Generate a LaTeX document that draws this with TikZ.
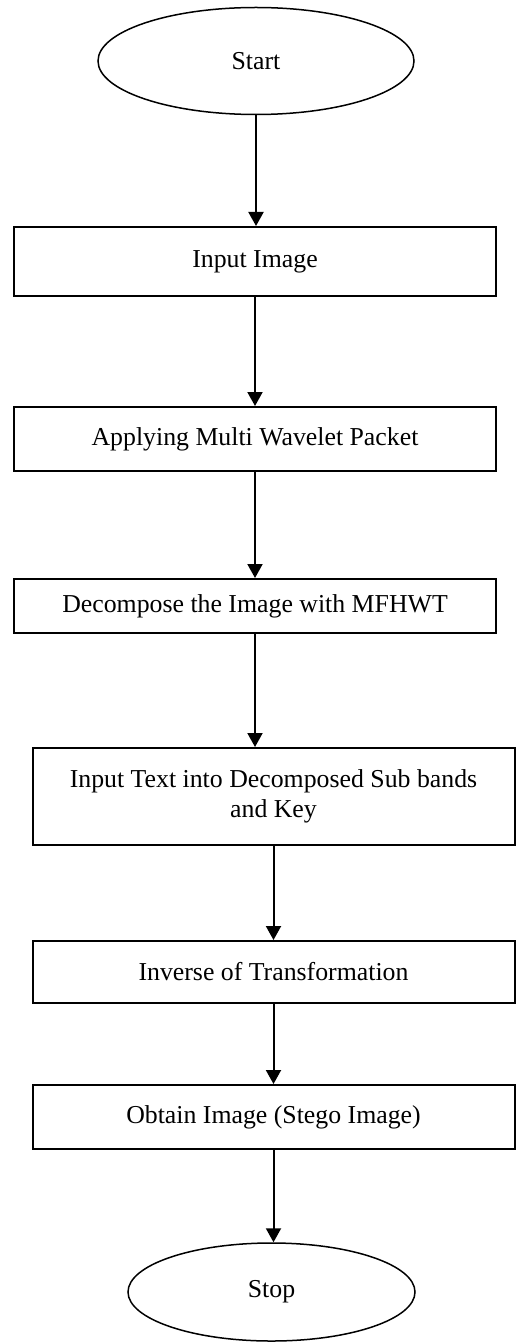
\documentclass[tikz,border=0pt]{standalone}
\usepackage{fontspec}
\setmainfont{Liberation Serif}
\usetikzlibrary{shapes.geometric,arrows.meta}

\begin{document}
\begin{tikzpicture}[x=0.5pt,y=-0.5pt,
  every node/.style={font=\fontsize{12.9}{15}\selectfont},
  stepbox/.style={draw,line width=1pt,rectangle,minimum width=241pt,align=center,inner sep=0pt},
  term/.style={draw,line width=0.75pt,ellipse,inner sep=0pt},
  flow/.style={-{Triangle[length=7pt,width=7.5pt]},line width=1pt}]
\useasboundingbox (0,0) rectangle (515,1342);
\node[term,minimum width=158pt,minimum height=53.5pt] (start) at (256,61) {Start};
\node[stepbox,minimum height=34.5pt] (input) at (255,261.5) {Input Image};
\node[stepbox,minimum height=32pt] (apply) at (255,439) {Applying Multi Wavelet Packet};
\node[stepbox,minimum height=27pt] (decomp) at (255,606) {Decompose the Image with MFHWT};
\node[stepbox,minimum height=48.5pt] (embed) at (273.5,796.5) {Input Text into Decomposed Sub bands\\and Key};
\node[stepbox,minimum height=31pt] (inverse) at (273.5,972) {Inverse of Transformation};
\node[stepbox,minimum height=32pt] (obtain) at (273.5,1117) {Obtain Image (Stego Image)};
\node[term,minimum width=143.5pt,minimum height=49pt] (stop) at (271.5,1292) {Stop};
\draw[flow] (start.south) -- (start.south |- input.north);
\draw[flow] (input.south) -- (input.south |- apply.north);
\draw[flow] (apply.south) -- (apply.south |- decomp.north);
\draw[flow] (decomp.south) -- (decomp.south |- embed.north);
\draw[flow] (embed.south) -- (embed.south |- inverse.north);
\draw[flow] (inverse.south) -- (inverse.south |- obtain.north);
\draw[flow] (obtain.south) -- (obtain.south |- stop.north);
\end{tikzpicture}
\end{document}
